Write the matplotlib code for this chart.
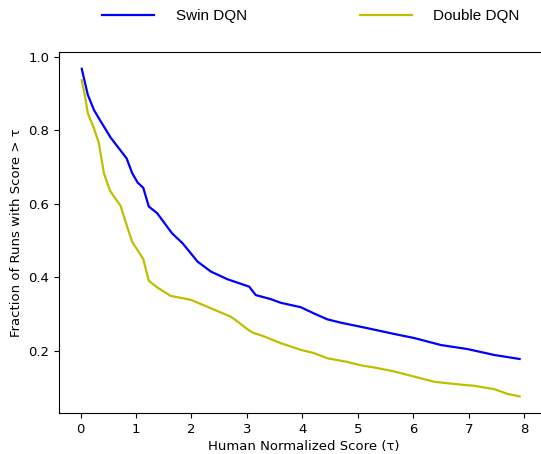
import matplotlib
matplotlib.use("Agg")
import matplotlib.pyplot as plt

# Swin DQN 曲线 (tau, fraction)
tau_swin = [0.02, 0.13, 0.24, 0.33, 0.54, 0.83, 0.93, 1.03, 1.13, 1.23, 1.38, 1.65,
            1.84, 2.11, 2.35, 2.65, 3.04, 3.16, 3.43, 3.61, 3.97, 4.21, 4.45, 4.69,
            5.17, 5.66, 6.02, 6.50, 6.98, 7.46, 7.92]
frac_swin = [0.968, 0.897, 0.856, 0.833, 0.781, 0.724, 0.684, 0.658, 0.644, 0.593,
             0.575, 0.520, 0.493, 0.443, 0.416, 0.395, 0.375, 0.352, 0.341, 0.331,
             0.319, 0.302, 0.286, 0.277, 0.262, 0.246, 0.235, 0.216, 0.205, 0.189,
             0.178]

# Double DQN 曲线
tau_double = [0.02, 0.07, 0.13, 0.24, 0.33, 0.42, 0.53, 0.72, 0.84, 0.93, 1.13, 1.23,
              1.38, 1.62, 1.99, 2.35, 2.71, 2.83, 3.01, 3.10, 3.30, 3.61, 3.97, 4.21,
              4.45, 4.81, 5.05, 5.29, 5.66, 6.02, 6.38, 6.74, 7.10, 7.46, 7.70, 7.92]
frac_double = [0.937, 0.901, 0.847, 0.806, 0.765, 0.684, 0.636, 0.595, 0.538, 0.497,
               0.450, 0.391, 0.373, 0.350, 0.339, 0.316, 0.293, 0.280, 0.259, 0.250,
               0.240, 0.221, 0.203, 0.194, 0.180, 0.170, 0.161, 0.155, 0.144, 0.130,
               0.116, 0.110, 0.105, 0.096, 0.083, 0.076]

plt.rcParams["font.size"] = 9.5

fig = plt.figure(figsize=(5.41, 4.54), dpi=100)
# 右边框在原图中被裁掉，坐标轴略超出画布
ax = fig.add_axes([59 / 541, 1 - 413 / 454, 490 / 541, 361 / 454])

ax.plot(tau_swin, frac_swin, color="b", lw=1.6, label="Swin DQN")
ax.plot(tau_double, frac_double, color="y", lw=1.6, label="Double DQN")

ax.set_xlim(-0.39, 8.45)
ax.set_ylim(0.031, 1.0136)
ax.set_xticks(range(0, 9))
ax.set_yticks([0.2, 0.4, 0.6, 0.8, 1.0])
ax.set_xlabel("Human Normalized Score (τ)", labelpad=3)
ax.set_ylabel("Fraction of Runs with Score > τ")

fig.legend(loc="center", bbox_to_anchor=(0.575, 1 - 16 / 454), ncol=2, frameon=False,
           prop={"family": "Liberation Sans", "size": 11},
           handlelength=3.4, handletextpad=1.4, columnspacing=7.4)

fig.savefig("out.png", dpi=100)
